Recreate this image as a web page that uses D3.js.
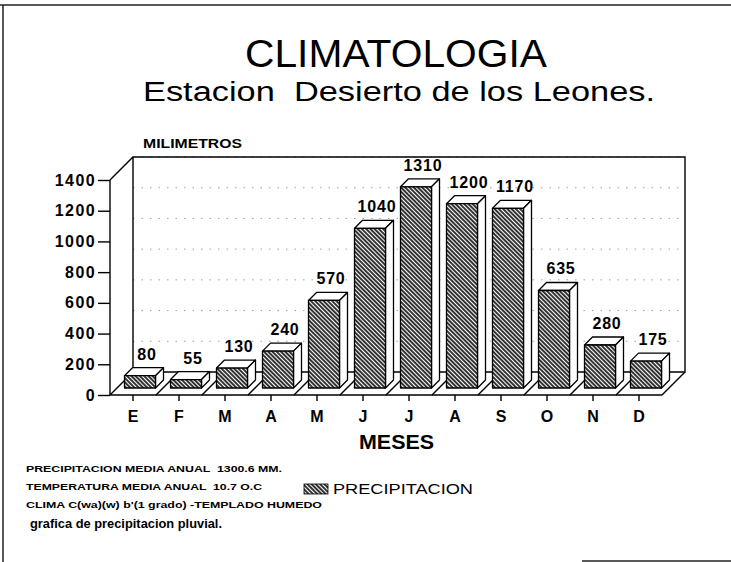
<!DOCTYPE html>
<html>
<head>
<meta charset="utf-8">
<script src="https://cdn.jsdelivr.net/npm/d3@7"></script>
<style>
  body { margin: 0; background: #fff; }
  text { font-family: "Liberation Sans", Arial, sans-serif; fill: #000; }
</style>
</head>
<body>
<div id="chart1"></div>
<script>
// data
var months = ["E", "F", "M", "A", "M", "J", "J", "A", "S", "O", "N", "D"];
var precip = [80, 55, 130, 240, 570, 1040, 1310, 1200, 1170, 635, 280, 175];
var yTicks = [0, 200, 400, 600, 800, 1000, 1200, 1400];
var infoLines = [
  "PRECIPITACION MEDIA ANUAL  1300.6 MM.",
  "TEMPERATURA MEDIA ANUAL  10.7 O.C",
  "CLIMA C(wa)(w) b'(1 grado) -TEMPLADO HUMEDO",
];
var infoWidths = [256, 236, 296];

var width = 731;
var height = 562;
var depth = 23; // full floor depth
var barShift = 7; // bars sit a bit behind the front edge
var barDepth = 8;

var svg = d3
  .select("#chart1")
  .append("svg")
  .attr("width", width)
  .attr("height", height);

var defs = svg.append("defs");
var pat = defs
  .append("pattern")
  .attr("id", "hatch")
  .attr("patternUnits", "userSpaceOnUse")
  .attr("width", 3)
  .attr("height", 4)
  .attr("patternTransform", "rotate(-45)");
pat.append("rect").attr("width", 3).attr("height", 4).attr("fill", "#fff");
pat
  .append("line")
  .attr("x1", 1)
  .attr("x2", 1)
  .attr("y1", 0)
  .attr("y2", 4)
  .attr("stroke", "#000")
  .attr("stroke-width", 1.6);

// page frame
svg.append("line").attr("x1", 0).attr("x2", width).attr("y1", 5).attr("y2", 5)
  .attr("stroke", "#222").attr("stroke-width", 1.5);
svg.append("line").attr("x1", 3).attr("x2", 3).attr("y1", 5).attr("y2", height)
  .attr("stroke", "#222").attr("stroke-width", 1.5);
svg.append("line").attr("x1", 582).attr("x2", width).attr("y1", 561).attr("y2", 561)
  .attr("stroke", "#222").attr("stroke-width", 1.5);

// titles
svg.append("text").attr("x", 245).attr("y", 67)
  .attr("font-size", 38).attr("textLength", 302).attr("lengthAdjust", "spacingAndGlyphs")
  .text("CLIMATOLOGIA");
svg.append("text").attr("x", 143).attr("y", 101)
  .attr("font-size", 27).attr("textLength", 512).attr("lengthAdjust", "spacingAndGlyphs")
  .style("white-space", "pre")
  .text("Estacion  Desierto de los Leones.");
svg.append("text").attr("x", 143).attr("y", 148)
  .attr("font-size", 13).attr("font-weight", "bold")
  .attr("textLength", 99).attr("lengthAdjust", "spacingAndGlyphs")
  .text("MILIMETROS");

var x = d3
  .scaleBand()
  .domain(d3.range(months.length))
  .range([110, 662])
  .paddingInner(0.326)
  .paddingOuter(0.163);
var step = x.step();
var y = d3.scaleLinear().domain([0, 1400]).range([395, 180]);

var x0 = 110, x1 = 662, y0 = y(0), yTop = y(1400);

// back wall + gridlines
var grid = svg.append("g");
yTicks.slice(1).forEach((t) => {
  grid.append("line")
    .attr("x1", x0 + depth).attr("x2", x1 + depth)
    .attr("y1", y(t) - depth).attr("y2", y(t) - depth)
    .attr("stroke", "#888").attr("stroke-width", 0.8)
    .attr("stroke-dasharray", "1.5,7");
});
var frame = svg.append("g").attr("stroke", "#000").attr("stroke-width", 1.4).attr("fill", "none");
frame.append("path").attr("d",
  "M" + x0 + "," + yTop +
  "L" + (x0 + depth) + "," + (yTop - depth) +
  "L" + (x1 + depth) + "," + (yTop - depth) +
  "L" + (x1 + depth) + "," + (y0 - depth) +
  "L" + (x0 + depth) + "," + (y0 - depth) +
  "L" + (x0 + depth) + "," + (yTop - depth));
// floor separators
for (var i = 0; i <= months.length; i++) {
  var fx = x0 + step * i;
  frame.append("line")
    .attr("x1", fx).attr("y1", y0)
    .attr("x2", fx + depth).attr("y2", y0 - depth);
}

// axes
var yAxis = d3.axisLeft(y).tickValues(yTicks).tickSize(12).tickPadding(2).tickFormat(d3.format("d"));
var gy = svg.append("g").attr("transform", "translate(" + x0 + ",0)").call(yAxis);
gy.select(".domain").attr("stroke-width", 1.4).attr("d", "M0," + y0 + "V" + yTop);
gy.selectAll(".tick line").attr("stroke-width", 1.4);
gy.selectAll("text")
  .attr("font-size", 16).attr("font-weight", "bold")
  .attr("font-family", "Liberation Sans, Arial, sans-serif")
  .attr("letter-spacing", 1.4).attr("fill", "#000");

var xAxis = d3.axisBottom(x).tickSize(6).tickPadding(10).tickFormat((i) => months[i]);
var gx = svg.append("g").attr("transform", "translate(0," + y0 + ")").call(xAxis);
gx.select(".domain").attr("stroke-width", 1.6).attr("d", "M" + x0 + ",0H" + x1);
gx.selectAll(".tick line").attr("stroke-width", 1.4);
gx.selectAll("text")
  .attr("font-size", 16).attr("font-weight", "bold")
  .attr("font-family", "Liberation Sans, Arial, sans-serif").attr("fill", "#000");

svg.append("text").attr("x", 359).attr("y", 449)
  .attr("font-size", 20).attr("font-weight", "bold")
  .attr("textLength", 75).attr("lengthAdjust", "spacingAndGlyphs")
  .text("MESES");

// bars
var bw = x.bandwidth();
var bars = svg.append("g").attr("stroke", "#000").attr("stroke-width", 1.3).attr("stroke-linejoin", "round");
precip.forEach((v, i) => {
  var bx = x(i) + barShift;
  var bb = y(0) - barShift;
  var bt = y(v) - barShift;
  var d = barDepth;
  bars.append("path").attr("fill", "#fff").attr("d",
    "M" + bx + "," + bt + "L" + (bx + d) + "," + (bt - d) + "L" + (bx + bw + d) + "," + (bt - d) +
    "L" + (bx + bw) + "," + bt + "Z");
  bars.append("path").attr("fill", "#fff").attr("d",
    "M" + (bx + bw) + "," + bt + "L" + (bx + bw + d) + "," + (bt - d) + "L" + (bx + bw + d) + "," + (bb - d) +
    "L" + (bx + bw) + "," + bb + "Z");
  bars.append("rect").attr("x", bx).attr("y", bt).attr("width", bw).attr("height", bb - bt)
    .attr("fill", "url(#hatch)");
  svg.append("text")
    .attr("x", bx + bw / 2 + 7).attr("y", bt - d - 8)
    .attr("text-anchor", "middle")
    .attr("font-size", 16).attr("font-weight", "bold").attr("letter-spacing", 0.8)
    .text(v);
});

// notes and legend
infoLines.forEach((t, i) => {
  svg.append("text").attr("x", 26).attr("y", 472 + i * 18)
    .attr("font-size", 9).attr("font-weight", "bold")
    .attr("textLength", infoWidths[i]).attr("lengthAdjust", "spacingAndGlyphs")
    .style("white-space", "pre")
    .text(t);
});
svg.append("text").attr("x", 30).attr("y", 528)
  .attr("font-size", 13).attr("font-weight", "bold")
  .attr("textLength", 192).attr("lengthAdjust", "spacingAndGlyphs")
  .text("grafica de precipitacion pluvial.");
svg.append("rect").attr("x", 304).attr("y", 484).attr("width", 24).attr("height", 10)
  .attr("fill", "url(#hatch)").attr("stroke", "#000").attr("stroke-width", 0.8);
svg.append("text").attr("x", 333).attr("y", 494)
  .attr("font-size", 15)
  .attr("textLength", 140).attr("lengthAdjust", "spacingAndGlyphs")
  .text("PRECIPITACION");
</script>
</body>
</html>
